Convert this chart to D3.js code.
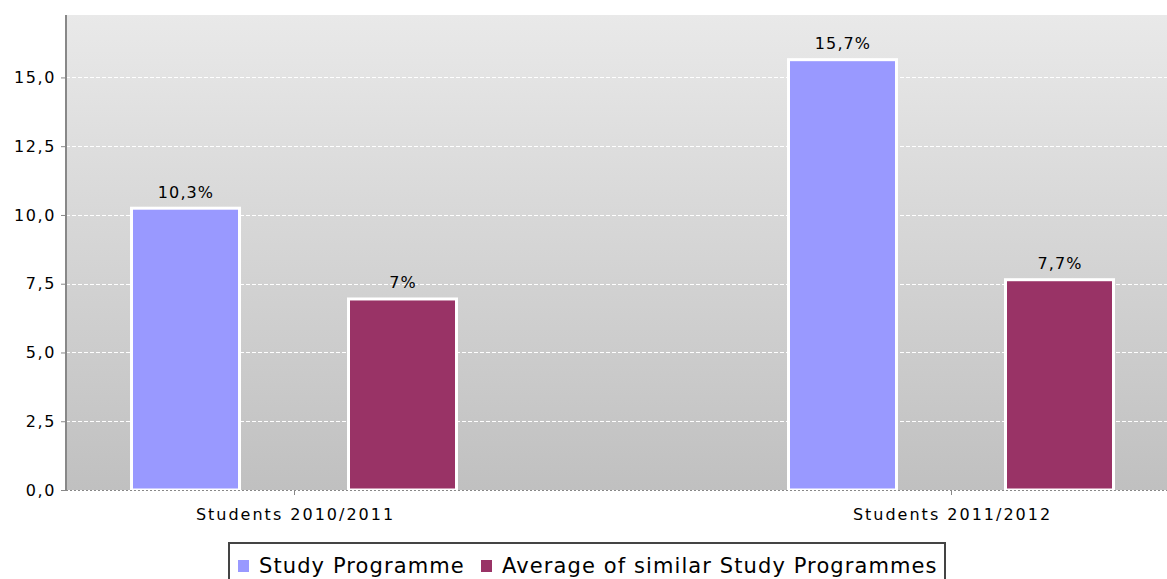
<!DOCTYPE html>
<html><head><meta charset="utf-8">
<script src="https://cdn.jsdelivr.net/npm/d3@7"></script>
<style>body{margin:0;background:#fff;overflow:hidden}svg{display:block}text{font-family:"DejaVu Sans",sans-serif}</style>
</head><body><svg id="c" width="1167" height="579"></svg>
<script>
const categories = ["Students 2010/2011", "Students 2011/2012"];
const seriesNames = ["Study Programme", "Average of similar Study Programmes"];
const studyProgramme = [10.3, 15.7];
const averageSimilar = [7.0, 7.7];
const valueLabels = [["10,3%", "15,7%"], ["7%", "7,7%"]];
const yTicks = [0, 2.5, 5, 7.5, 10, 12.5, 15];
const colors = ["#9999ff", "#993366"];

const svg = d3.select("#c");
const pL = 66, pT = 15, pR = 1167, pB = 490;
const y = d3.scaleLinear().domain([0, 15.7 * 1.1]).range([pB, pT]);
const x = d3.scalePoint().domain(categories).range([294, 951]);
const sub = d3.scaleBand().domain(seriesNames).range([-164, 164]).paddingInner(106 / 217);

const defs = svg.append("defs");
const g = defs.append("linearGradient").attr("id", "bg").attr("x1", 0).attr("y1", 0).attr("x2", 0).attr("y2", 1);
g.append("stop").attr("offset", 0).attr("stop-color", "#e9e9e9");
g.append("stop").attr("offset", 1).attr("stop-color", "#c0c0c0");
svg.append("rect").attr("x", pL).attr("y", pT).attr("width", pR - pL).attr("height", pB - pT).attr("fill", "url(#bg)");

// grid
svg.append("g").selectAll("line").data(yTicks.filter(d => d > 0)).join("line")
  .attr("x1", pL).attr("x2", pR).attr("y1", d => Math.round(y(d)) + 0.5).attr("y2", d => Math.round(y(d)) + 0.5)
  .attr("stroke", "#ffffff").attr("stroke-width", 1).attr("stroke-dasharray", "4,2");

// bars
const series = [studyProgramme, averageSimilar];
series.forEach((vals, si) => {
  svg.append("g").selectAll("rect").data(vals).join("rect")
    .attr("x", (d, i) => x(categories[i]) + sub(seriesNames[si]) + 1.5)
    .attr("width", sub.bandwidth() - 3)
    .attr("y", d => y(d) + 1.5)
    .attr("height", d => y(0) - y(d) - 1.5)
    .attr("fill", colors[si]).attr("stroke", "#ffffff").attr("stroke-width", 3);
  svg.append("g").selectAll("text").data(vals).join("text")
    .attr("x", (d, i) => x(categories[i]) + sub(seriesNames[si]) + sub.bandwidth() / 2 + 0.5)
    .attr("y", d => y(d) - 9)
    .attr("text-anchor", "middle").attr("font-size", 16).attr("letter-spacing", 1.1).attr("fill", "#000")
    .text((d, i) => valueLabels[si][i]);
});

// baseline dotted
svg.append("line").attr("x1", pL).attr("x2", pR).attr("y1", pB + 0.5).attr("y2", pB + 0.5)
  .attr("stroke", "#888").attr("stroke-dasharray", "2,2");

// y axis
const ya = svg.append("g").attr("transform", `translate(${pL},0)`)
  .call(d3.axisLeft(y).tickValues(yTicks).tickSize(5).tickPadding(5).tickFormat(d => d3.format(".1f")(d).replace(".", ",")));
ya.select(".domain").attr("stroke", "#888").attr("stroke-width", 2).attr("d", `M0,${pT}V${pB + 1}`);
ya.selectAll(".tick line").attr("stroke", "#888");
ya.selectAll(".tick text").attr("font-size", 16).attr("letter-spacing", 1.6).attr("fill", "#000").attr("font-family", "DejaVu Sans");

// x axis
const xa = svg.append("g").attr("transform", `translate(0,${pB + 1})`)
  .call(d3.axisBottom(x).tickSize(4).tickPadding(14));
xa.select(".domain").remove();
xa.selectAll(".tick line").attr("stroke", "#888");
xa.selectAll(".tick text").attr("font-size", 16).attr("letter-spacing", 2).attr("dx", 1).attr("fill", "#000").attr("font-family", "DejaVu Sans");

// legend
const lg = svg.append("g");
lg.append("rect").attr("x", 229).attr("y", 543).attr("width", 716).attr("height", 50)
  .attr("fill", "#fff").attr("stroke", "#444").attr("stroke-width", 2);
const legX = [238, 481];
seriesNames.forEach((n, i) => {
  lg.append("rect").attr("x", legX[i]).attr("y", 560).attr("width", 11).attr("height", 12).attr("fill", colors[i]);
  lg.append("text").attr("x", legX[i] + 21).attr("y", 573).attr("font-size", 21).attr("letter-spacing", 1.1).attr("fill", "#000").text(n);
});
</script></body></html>
